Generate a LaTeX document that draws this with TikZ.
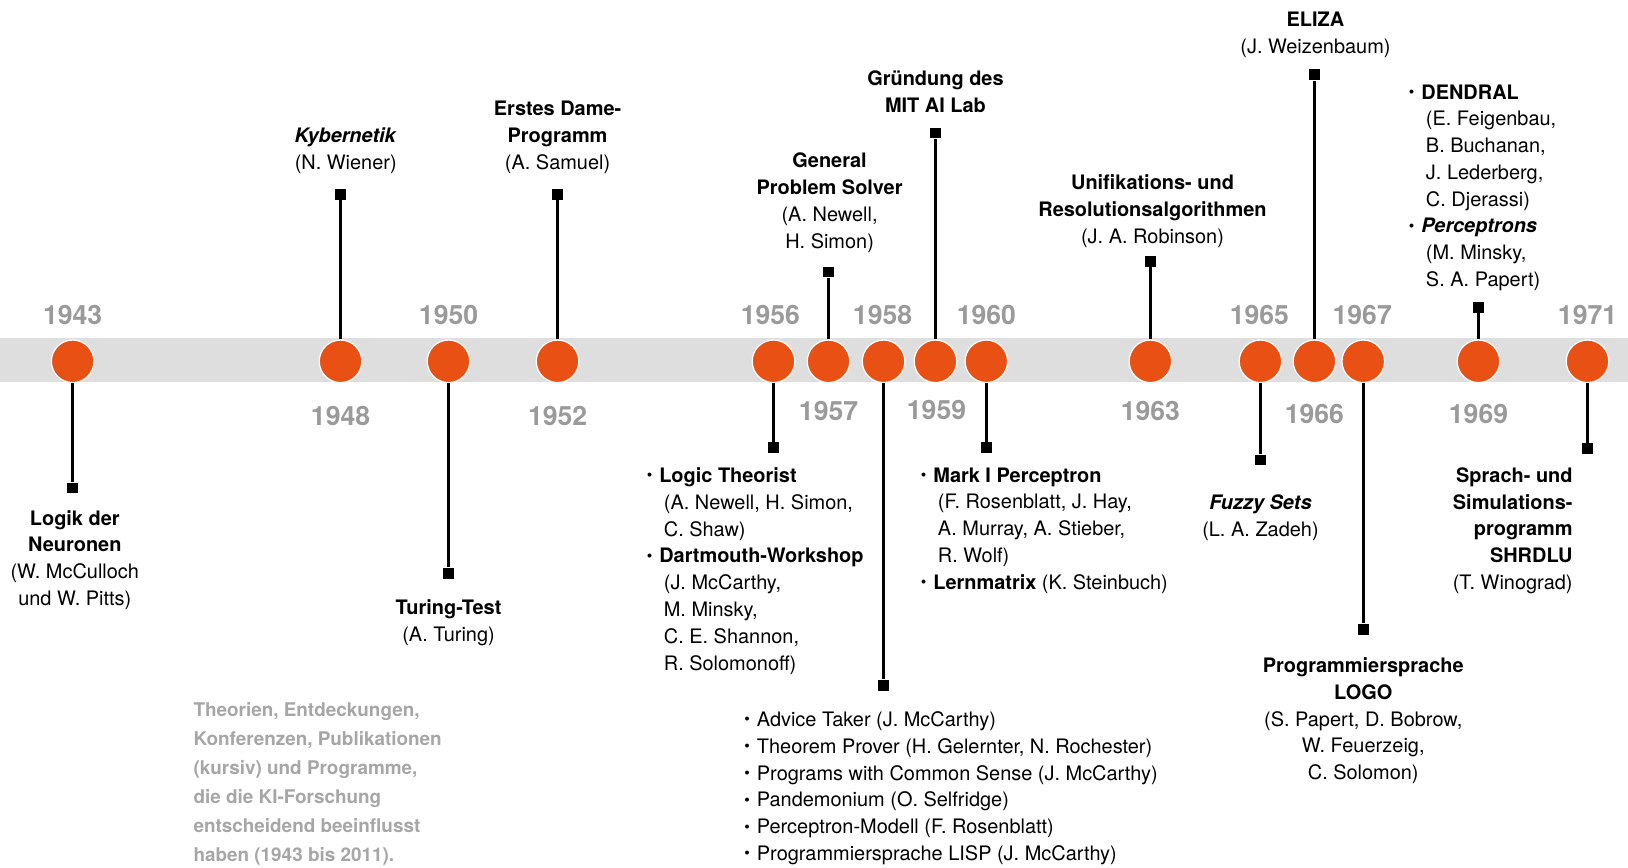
\documentclass[tikz,border=0pt]{standalone}
\usepackage{fontspec}
\setmainfont{TeX Gyre Heros}
\definecolor{kiorange}{HTML}{E85014}
\definecolor{bandgray}{HTML}{DEDEDE}
\definecolor{yeargray}{HTML}{9A9A9A}
\definecolor{notegray}{HTML}{A6A6A6}
\newcommand\tlbul{\makebox[6.3pt][l]{\hspace*{0.3pt}\raisebox{0.15ex}{\fontsize{7.6}{7.6}\selectfont\textbullet}}}
\newcommand\tlind{\hspace*{8.5pt}}
\tikzset{
  evdot/.style={circle, fill=kiorange, draw=white, line width=0.6pt, minimum size=20.5pt, inner sep=0pt},
  endsq/.style={rectangle, fill=black, minimum size=5.2pt, inner sep=0pt},
  stem/.style={line width=1.2pt, draw=black},
  yr/.style={font=\fontsize{12.8}{14}\selectfont\bfseries, text=yeargray, inner sep=0pt},
  lbl/.style={font=\fontsize{9.6}{12.9}\selectfont, inner sep=0pt, align=center, anchor=north},
  lst/.style={font=\fontsize{9.6}{12.9}\selectfont, inner sep=0pt, align=left, anchor=north west},
  notetext/.style={font=\fontsize{9.1}{14}\selectfont\bfseries, text=notegray, inner sep=0pt, align=left, anchor=north west}
}
\begin{document}
\begin{tikzpicture}[x=0.5pt,y=-0.5pt]
\useasboundingbox (0,0) rectangle (1568,836);
% band
\fill[bandgray] (0,326) rectangle (1568,368);
% event circles
\foreach \n/\x in {43/70,48/328,50/432,52/537,56/745,57/798,58/851,59/901,60/950,63/1108,65/1214,66/1266,67/1313,69/1424,71/1529}
  \node[evdot] (c\n) at (\x,348) {};
% end squares
\node[endsq] (s43) at (70,470) {};
\node[endsq] (s48) at (328,187) {};
\node[endsq] (s50) at (432,552) {};
\node[endsq] (s52) at (537,187) {};
\node[endsq] (s56) at (745,431) {};
\node[endsq] (s57) at (798,262) {};
\node[endsq] (s58) at (851,660) {};
\node[endsq] (s59) at (901,128) {};
\node[endsq] (s60) at (950,431) {};
\node[endsq] (s63) at (1108,252) {};
\node[endsq] (s65) at (1214,443) {};
\node[endsq] (s66) at (1266,72) {};
\node[endsq] (s67) at (1313,606) {};
\node[endsq] (s69) at (1424,296) {};
\node[endsq] (s71) at (1529,432) {};
% stems
\foreach \n in {43,48,50,52,56,57,58,59,60,63,65,66,67,69,71}
  \draw[stem] (c\n) -- (s\n);
% years
\node[yr] (y43) at (70,303) {1943};
\node[yr] (y48) at (328,401) {1948};
\node[yr] (y50) at (432,303) {1950};
\node[yr] (y52) at (537,401) {1952};
\node[yr] (y56) at (742,303) {1956};
\node[yr] (y57) at (798,396) {1957};
\node[yr] (y58) at (850,303) {1958};
\node[yr] (y59) at (902,395) {1959};
\node[yr] (y60) at (950,303) {1960};
\node[yr] (y63) at (1108,396) {1963};
\node[yr] (y65) at (1213,303) {1965};
\node[yr] (y66) at (1266,399) {1966};
\node[yr] (y67) at (1312,303) {1967};
\node[yr] (y69) at (1424,399) {1969};
\node[yr] (y71) at (1529,303) {1971};
% labels
\node[lbl] (t43) at (72,491) {\textbf{Logik der}\\\textbf{Neuronen}\\(W. McCulloch\\und W. Pitts)};
\node[lbl] (t48) at (333,123) {\textbf{\textit{Kybernetik}}\\(N. Wiener)};
\node[lbl] (t52) at (537,97) {\textbf{Erstes Dame-}\\\textbf{Programm}\\(A. Samuel)};
\node[lbl] (t50) at (432,577) {\textbf{Turing-Test}\\(A. Turing)};
\node[lst] (t56) at (622,450) {\tlbul\textbf{Logic Theorist}\\\tlind(A. Newell, H. Simon,\\\tlind C. Shaw)\\\tlbul\textbf{Dartmouth-Workshop}\\\tlind(J. McCarthy,\\\tlind M. Minsky,\\\tlind C. E. Shannon,\\\tlind R. Solomonoff)};
\node[lbl] (t57) at (799,147) {\textbf{General}\\\textbf{Problem Solver}\\(A. Newell,\\H. Simon)};
\node[lst] (t58) at (716,685) {\tlbul Advice Taker (J. McCarthy)\\\tlbul Theorem Prover (H. Gelernter, N. Rochester)\\\tlbul Programs with Common Sense (J. McCarthy)\\\tlbul Pandemonium (O. Selfridge)\\\tlbul Perceptron-Modell (F. Rosenblatt)\\\tlbul Programmiersprache LISP (J. McCarthy)};
\node[lbl] (t59) at (901,68) {\textbf{Gründung des}\\\textbf{MIT AI Lab}};
\node[lst] (t60) at (886,450) {\tlbul\textbf{Mark I Perceptron}\\\tlind(F. Rosenblatt, J. Hay,\\\tlind A. Murray, A. Stieber,\\\tlind R. Wolf)\\\tlbul\textbf{Lernmatrix} (K. Steinbuch)};
\node[lbl] (t63) at (1110,168) {\textbf{Unifikations- und}\\\textbf{Resolutionsalgorithmen}\\(J. A. Robinson)};
\node[lbl] (t65) at (1214,476) {\textbf{\textit{Fuzzy Sets}}\\(L. A. Zadeh)};
\node[lbl] (t66) at (1267,11) {\textbf{ELIZA}\\(J. Weizenbaum)};
\node[lbl] (t67) at (1313,633) {\textbf{Programmiersprache}\\\textbf{LOGO}\\(S. Papert, D. Bobrow,\\W. Feuerzeig,\\C. Solomon)};
\node[lst] (t69) at (1356,81) {\tlbul\textbf{DENDRAL}\\\tlind(E. Feigenbau,\\\tlind B. Buchanan,\\\tlind J. Lederberg,\\\tlind C. Djerassi)\\\tlbul\textbf{\textit{Perceptrons}}\\\tlind(M. Minsky,\\\tlind S. A. Papert)};
\node[lbl, align=right, anchor=north east] (t71) at (1515,450) {\textbf{Sprach- und}\\\textbf{Simulations-}\\\textbf{programm}\\\textbf{SHRDLU}\\(T. Winograd)};
\node[notetext] (note) at (186,676) {Theorien, Entdeckungen,\\Konferenzen, Publikationen\\(kursiv) und Programme,\\die die KI-Forschung\\entscheidend beeinflusst\\haben (1943 bis 2011).};
\end{tikzpicture}
\end{document}
